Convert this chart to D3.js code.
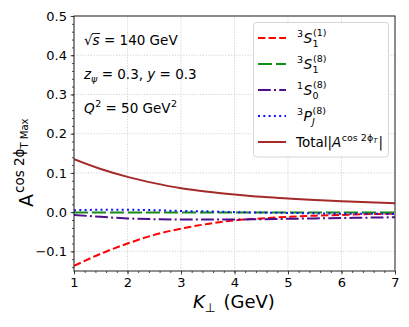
<!DOCTYPE html>
<html>
<head>
<meta charset="utf-8">
<script src="https://cdn.jsdelivr.net/npm/d3@7"></script>
<style>
    body { margin: 0; background: #fff; }
    svg { font-family: "DejaVu Sans", sans-serif; }
    svg text { white-space: pre; }
    .grid line { stroke: #c8c8c8; stroke-width: 0.8; stroke-dasharray: 1.2,1.6; }
</style>
</head>
<body>
<svg id="chart" width="409" height="327"></svg>
<script>
    // values
    const kPerp = [1, 1.5, 2, 2.5, 3, 3.5, 4, 4.5, 5, 5.5, 6, 6.5, 7];
    const s1Singlet = [-0.137, -0.106, -0.080, -0.058, -0.042, -0.030, -0.021, -0.016, -0.012, -0.009, -0.007, -0.005, -0.004];
    const s1Octet = [-0.001, -0.001, -0.001, -0.001, -0.001, -0.001, -0.001, -0.001, -0.001, -0.001, -0.001, -0.001, -0.001];
    const s0Octet = [-0.007, -0.012, -0.016, -0.018, -0.019, -0.019, -0.019, -0.018, -0.017, -0.016, -0.015, -0.014, -0.013];
    const pjOctet = [0.005, 0.006, 0.006, 0.005, 0.003, 0.002, 0.000, -0.001, -0.002, -0.003, -0.004, -0.004, -0.005];
    const total = [0.135, 0.110, 0.090, 0.074, 0.061, 0.052, 0.045, 0.039, 0.035, 0.031, 0.028, 0.025, 0.023];
    const xTicks = [1, 2, 3, 4, 5, 6, 7];
    const yTicks = [-0.1, 0.0, 0.1, 0.2, 0.3, 0.4, 0.5];

    const series = [
        { values: s1Singlet, color: "#ff0000", dash: "7.4,3.2", pre: "3", main: "S", sub: "1", sup: "(1)" },
        { values: s1Octet, color: "#158c15", dash: "14,4", pre: "3", main: "S", sub: "1", sup: "(8)" },
        { values: s0Octet, color: "#4b0f8c", dash: "12.8,3.2,2,3.2", pre: "1", main: "S", sub: "0", sup: "(8)" },
        { values: pjOctet, color: "#1010ff", dash: "2,3.3", pre: "3", main: "P", sub: "J", sup: "(8)" },
        { values: total, color: "#a52a2a", dash: null, total: true }
    ];

    const svg = d3.select("#chart");
    const margin = { top: 16, right: 14, bottom: 56, left: 74 };
    const W = 409, H = 327;
    const x = d3.scaleLinear().domain([1, 7]).range([margin.left, W - margin.right]);
    const y = d3.scaleLinear().domain([-0.15, 0.5]).range([H - margin.bottom, margin.top]);

    // grid
    const grid = svg.append("g").attr("class", "grid");
    grid.selectAll(".gx").data(xTicks).join("line")
        .attr("x1", d => x(d)).attr("x2", d => x(d))
        .attr("y1", y.range()[0]).attr("y2", y.range()[1]);
    grid.selectAll(".gy").data(yTicks).join("line")
        .attr("x1", x.range()[0]).attr("x2", x.range()[1])
        .attr("y1", d => y(d)).attr("y2", d => y(d));

    // axes
    const fmtY = d => d < 0 ? "\u2212" + Math.abs(d).toFixed(1) : d.toFixed(1);
    const xAxis = svg.append("g").attr("transform", `translate(0,${y.range()[0]})`)
        .call(d3.axisBottom(x).tickValues(xTicks).tickFormat(d3.format("d")).tickSize(3.5).tickPadding(3.5));
    const xMinor = svg.append("g").attr("transform", `translate(0,${y.range()[0]})`)
        .call(d3.axisBottom(x).tickValues(d3.range(1, 7.001, 0.2)).tickFormat("").tickSize(2));
    const yAxis = svg.append("g").attr("transform", `translate(${x.range()[0]},0)`)
        .call(d3.axisLeft(y).tickValues(yTicks).tickFormat(fmtY).tickSize(3.5).tickPadding(3.5));
    const yMinor = svg.append("g").attr("transform", `translate(${x.range()[0]},0)`)
        .call(d3.axisLeft(y).tickValues(d3.range(-0.14, 0.501, 0.02)).tickFormat("").tickSize(2));
    [xAxis, xMinor, yAxis, yMinor].forEach(g => {
        g.select(".domain").remove();
        g.selectAll("line").attr("stroke", "#222").attr("stroke-width", 0.8);
        g.selectAll("text").attr("font-family", "DejaVu Sans").attr("font-size", 13).attr("fill", "#000");
    });

    // lines
    const clip = svg.append("clipPath").attr("id", "clip").append("rect")
        .attr("x", x.range()[0]).attr("y", y.range()[1])
        .attr("width", x.range()[1] - x.range()[0]).attr("height", y.range()[0] - y.range()[1]);
    const line = d3.line().x((d, i) => x(kPerp[i])).y(d => y(d)).curve(d3.curveMonotoneX);
    const plot = svg.append("g").attr("clip-path", "url(#clip)");
    series.forEach(s => {
        plot.append("path").attr("d", line(s.values))
            .attr("fill", "none").attr("stroke", s.color).attr("stroke-width", 2)
            .attr("stroke-dasharray", s.dash);
    });

    // frame
    svg.append("rect")
        .attr("x", x.range()[0]).attr("y", y.range()[1])
        .attr("width", x.range()[1] - x.range()[0]).attr("height", y.range()[0] - y.range()[1])
        .attr("fill", "none").attr("stroke", "#222").attr("stroke-width", 1);

    // helper for putting text pieces in a row
    function piece(g, txt, px, py, size, italic) {
        const t = g.append("text").attr("x", px).attr("y", py).attr("font-size", size)
            .attr("font-style", italic ? "italic" : "normal").text(txt);
        return px + t.node().getComputedTextLength();
    }

    // annotations
    const ann = svg.append("g").attr("fill", "#000");
    let cx = piece(ann, "\u221A", 84, 45, 13.5, false);
    const sEnd = piece(ann, "s", cx, 45, 13.5, true);
    ann.append("line").attr("x1", cx - 0.5).attr("x2", sEnd + 0.5).attr("y1", 33.5).attr("y2", 33.5)
        .attr("stroke", "#000").attr("stroke-width", 0.9);
    piece(ann, " = 140 GeV", sEnd, 45, 13.5, false);

    cx = piece(ann, "z", 84, 79, 13.5, true);
    cx = piece(ann, "\u03C8", cx, 82, 9.5, true);
    cx = piece(ann, " = 0.3, ", cx, 79, 13.5, false);
    cx = piece(ann, "y", cx, 79, 13.5, true);
    piece(ann, " = 0.3", cx, 79, 13.5, false);

    cx = piece(ann, "Q", 84, 113, 13.5, true);
    cx = piece(ann, "2", cx + 0.5, 107, 9.5, false);
    cx = piece(ann, " = 50 GeV", cx, 113, 13.5, false);
    piece(ann, "2", cx + 0.5, 107, 9.5, false);

    // legend
    const lg = svg.append("g");
    lg.append("rect").attr("x", 253.5).attr("y", 22.5).attr("width", 135).attr("height", 134.5)
        .attr("rx", 3).attr("fill", "#fff").attr("fill-opacity", 0.85).attr("stroke", "#cccccc").attr("stroke-width", 0.8);
    series.forEach((s, i) => {
        const cy = 38 + i * 26;
        lg.append("line").attr("x1", 258).attr("x2", 286).attr("y1", cy).attr("y2", cy)
            .attr("stroke", s.color).attr("stroke-width", 2).attr("stroke-dasharray", s.dash);
        if (s.total) {
            let px = piece(lg, "Total|", 296, cy + 5, 13.5, false);
            px = piece(lg, "A", px, cy + 5, 13.5, true);
            px = piece(lg, "cos 2\u03D5", px + 0.5, cy - 1, 9.5, false);
            px = piece(lg, "T", px, cy + 1, 7, true);
            piece(lg, "|", px + 1, cy + 5, 13.5, false);
        } else {
            let px = piece(lg, s.pre, 297, cy - 1, 9.5, false);
            px = piece(lg, s.main, px + 0.5, cy + 5, 14, true);
            piece(lg, s.sup, px + 0.5, cy - 2, 9.5, false);
            piece(lg, s.sub, px, cy + 9, 9.5, s.sub === "J");
        }
    });

    // axis titles
    let lx = 193;
    lx = piece(svg, "K", lx, 308, 18, true);
    lx = piece(svg, "\u22A5", lx, 312, 12.5, false);
    piece(svg, " (GeV)", lx + 2, 308, 18, false);

    const yl = svg.append("g").attr("transform", "translate(33,207) rotate(-90)");
    let ly = piece(yl, "A", 0, 0, 19, false);
    ly = piece(yl, "cos 2\u03D5", ly + 1, -9, 13.5, false);
    piece(yl, "T Max", ly, -5, 10, false);
</script>
</body>
</html>
